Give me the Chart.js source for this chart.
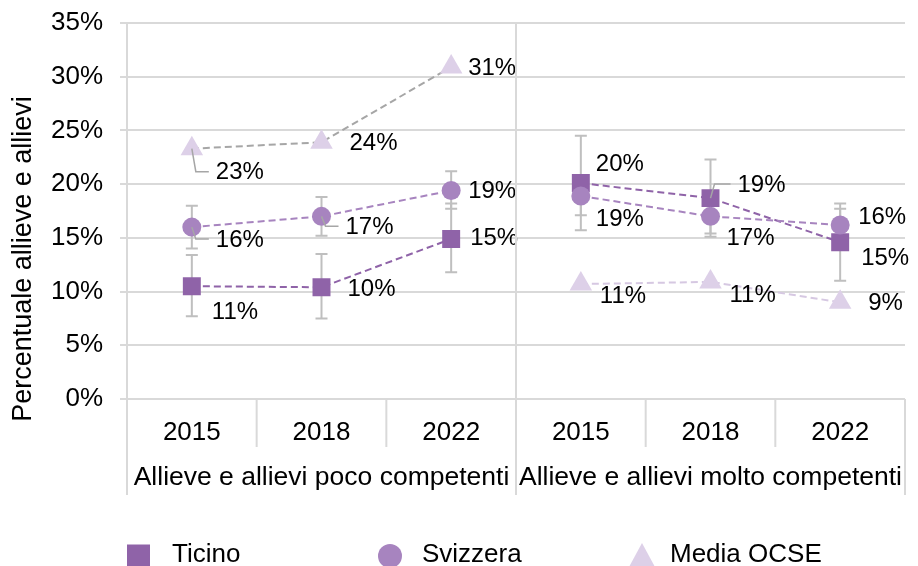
<!DOCTYPE html>
<html>
<head>
<meta charset="utf-8">
<script src="https://cdn.jsdelivr.net/npm/chart.js@4.4.0/dist/chart.umd.min.js"></script>
<style>
  body { margin: 0; background: #fff; }
  canvas { display: block; }
</style>
</head>
<body>
<canvas id="chart" width="918" height="566"></canvas>
<script>
// Data
const years = ['2015', '2018', '2022', '2015', '2018', '2022'];
const groups = ['Allieve e allievi poco competenti', 'Allieve e allievi molto competenti'];
const yTicks = [0, 5, 10, 15, 20, 25, 30, 35];

const ticino = [10.5, 10.4, 14.9, 20.1, 18.7, 14.6];
const ticinoLow = [7.7, 7.5, 11.8, 15.7, 15.1, 11.0];
const ticinoHigh = [13.4, 13.5, 18.2, 24.5, 22.3, 18.2];

const svizzera = [16.0, 17.0, 19.4, 18.9, 17.0, 16.2];
const svizzeraLow = [14.0, 15.2, 17.7, 17.1, 15.4, 14.7];
const svizzeraHigh = [18.0, 18.8, 21.2, 20.7, 18.6, 17.7];

const ocse = [23.3, 23.9, 30.9, 10.7, 10.9, 9.0];

const FONT = '"Liberation Sans", Arial, sans-serif';
const GRID = '#D9D9D9';
const C_TI = '#8F63A8';
const C_SV = '#A784BF';
const C_OC = '#DDD0E8';

// label placement: [dx, dy, leader]
const labelPos = [
  [[20, 25], [26, 1], [19, -2], [15, -20], [27, -14, true], [21, 15]],
  [[24, 12, true], [24, 10, true], [17, 0], [15, 22], [16, 21], [18, -9]],
  [[24, 23, true], [28, 0], [17, 0], [19, 11], [19, 12], [28, 0]]
];

const hideGap = (color) => (ctx) => ctx.p0DataIndex === 2 ? 'rgba(0,0,0,0)' : color;

// error bars behind the markers
const errorBars = {
  id: 'errorBars',
  beforeDatasetsDraw(chart) {
    const { ctx, scales: { x, y } } = chart;
    const sets = [[ticinoLow, ticinoHigh], [svizzeraLow, svizzeraHigh]];
    ctx.save();
    ctx.strokeStyle = '#BFBFBF';
    ctx.lineWidth = 2;
    sets.forEach(([lo, hi]) => {
      lo.forEach((v, i) => {
        const px = x.getPixelForValue(i);
        const y1 = y.getPixelForValue(v), y2 = y.getPixelForValue(hi[i]);
        ctx.beginPath();
        ctx.moveTo(px, y1); ctx.lineTo(px, y2);
        ctx.moveTo(px - 6, y1); ctx.lineTo(px + 6, y1);
        ctx.moveTo(px - 6, y2); ctx.lineTo(px + 6, y2);
        ctx.stroke();
      });
    });
    ctx.restore();
  }
};

// data labels
const valueLabels = {
  id: 'valueLabels',
  afterDatasetsDraw(chart) {
    const { ctx } = chart;
    ctx.save();
    ctx.font = '24px ' + FONT;
    ctx.textAlign = 'left';
    ctx.textBaseline = 'middle';
    chart.data.datasets.forEach((ds, d) => {
      const meta = chart.getDatasetMeta(d);
      meta.data.forEach((pt, i) => {
        const [dx, dy, leader] = labelPos[d][i];
        const lx = pt.x + dx, ly = pt.y + dy;
        if (leader) {
          ctx.strokeStyle = '#A6A6A6';
          ctx.lineWidth = 1.5;
          ctx.beginPath();
          ctx.moveTo(pt.x, pt.y);
          ctx.lineTo(pt.x + 4, ly);
          ctx.lineTo(lx - 7, ly);
          ctx.stroke();
        }
        ctx.fillStyle = '#000';
        ctx.fillText(Math.round(ds.data[i]) + '%', lx, ly + 1);
      });
    });
    ctx.restore();
  }
};

// multi-level category axis, y title and legend
const frame = {
  id: 'frame',
  afterDraw(chart) {
    const { ctx, chartArea: a, scales: { x } } = chart;
    const bottom = a.bottom;
    ctx.save();
    ctx.strokeStyle = GRID;
    ctx.lineWidth = 2;
    const edges = [];
    for (let i = 0; i <= years.length; i++) {
      if (i === 0) edges.push(a.left);
      else if (i === years.length) edges.push(a.right);
      else edges.push((x.getPixelForValue(i - 1) + x.getPixelForValue(i)) / 2);
    }
    edges.forEach((ex, i) => {
      const major = i % 3 === 0;
      ctx.beginPath();
      ctx.moveTo(ex, i === 3 ? a.top : bottom);
      ctx.lineTo(ex, major ? bottom + 96 : bottom + 48);
      ctx.stroke();
    });

    ctx.fillStyle = '#000';
    ctx.font = '26px ' + FONT;
    ctx.textAlign = 'center';
    ctx.textBaseline = 'middle';
    years.forEach((yr, i) => ctx.fillText(yr, x.getPixelForValue(i), bottom + 34));
    ctx.font = '26.5px ' + FONT;
    groups.forEach((g, k) => {
      const cx = (edges[k * 3] + edges[k * 3 + 3]) / 2;
      ctx.fillText(g, cx, bottom + 79);
    });

    // y axis title
    ctx.save();
    ctx.font = '27px ' + FONT;
    ctx.translate(24, 259);
    ctx.rotate(-Math.PI / 2);
    ctx.fillText('Percentuale allieve e allievi', 0, 0);
    ctx.restore();

    // legend
    ctx.font = '26px ' + FONT;
    const items = [
      { name: 'Ticino', style: 'rect', color: C_TI, mx: 138.5, tx: 172 },
      { name: 'Svizzera', style: 'circle', color: C_SV, mx: 390, tx: 422 },
      { name: 'Media OCSE', style: 'triangle', color: C_OC, mx: 642, tx: 670 }
    ];
    const ly = 556;
    items.forEach(it => {
      ctx.fillStyle = it.color;
      ctx.beginPath();
      if (it.style === 'rect') ctx.rect(it.mx - 11.5, ly - 11.5, 23, 23);
      else if (it.style === 'circle') ctx.arc(it.mx, ly, 12, 0, Math.PI * 2);
      else { ctx.moveTo(it.mx, ly - 13); ctx.lineTo(it.mx + 13, ly + 11); ctx.lineTo(it.mx - 13, ly + 11); ctx.closePath(); }
      ctx.fill();
      ctx.fillStyle = '#000';
      ctx.textAlign = 'left';
      ctx.fillText(it.name, it.tx, ly - 1);
    });
    ctx.restore();
  }
};

new Chart(document.getElementById('chart'), {
  type: 'line',
  data: {
    labels: years,
    datasets: [
      {
        label: 'Ticino', data: ticino, order: 2,
        borderColor: C_TI, borderWidth: 2, borderDash: [7, 4],
        segment: { borderColor: hideGap(C_TI) },
        pointStyle: 'rect', pointRadius: 12.7,
        pointBackgroundColor: C_TI, pointBorderColor: C_TI, pointBorderWidth: 0
      },
      {
        label: 'Svizzera', data: svizzera, order: 1,
        borderColor: C_SV, borderWidth: 2, borderDash: [7, 4],
        segment: { borderColor: hideGap(C_SV) },
        pointStyle: 'circle', pointRadius: 9.5,
        pointBackgroundColor: C_SV, pointBorderColor: C_SV, pointBorderWidth: 0
      },
      {
        label: 'Media OCSE', data: ocse, order: 0,
        borderColor: '#A6A6A6', borderWidth: 2, borderDash: [7, 4],
        segment: {
          borderColor: ctx => ctx.p0DataIndex < 2 ? '#A6A6A6' : (ctx.p0DataIndex === 2 ? 'rgba(0,0,0,0)' : '#D6C8E2')
        },
        pointStyle: 'triangle', pointRadius: 13,
        pointBackgroundColor: C_OC, pointBorderColor: C_OC, pointBorderWidth: 0
      }
    ]
  },
  options: {
    responsive: false,
    devicePixelRatio: 1,
    animation: false,
    layout: { padding: { top: 23, right: 3, left: 0, bottom: 0 } },
    plugins: { legend: { display: false }, tooltip: { enabled: false } },
    scales: {
      x: {
        offset: true,
        grid: { display: false },
        border: { display: false },
        ticks: { display: false },
        afterFit: s => { s.height = 167; s.paddingLeft = 0; s.paddingRight = 0; }
      },
      y: {
        min: 0, max: 35,
        afterBuildTicks: s => { s.ticks = yTicks.map(v => ({ value: v })); },
        ticks: {
          callback: v => v + '%',
          font: { family: FONT, size: 26 },
          color: '#000',
          padding: 17
        },
        grid: { color: GRID, lineWidth: 2, tickLength: 7 },
        border: { color: GRID, width: 2 },
        afterFit: s => { s.width = 127; s.paddingTop = 0; s.paddingBottom = 0; }
      }
    }
  },
  plugins: [errorBars, valueLabels, frame]
});
</script>
</body>
</html>
